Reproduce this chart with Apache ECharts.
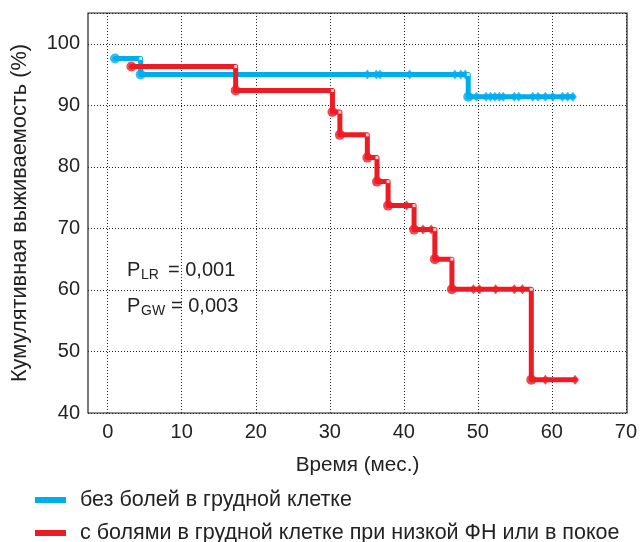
<!DOCTYPE html>
<html>
<head>
<meta charset="utf-8">
<script src="https://cdn.jsdelivr.net/npm/echarts@6/dist/echarts.min.js"></script>
<style>html,body{margin:0;padding:0;background:#fff;}#c{width:640px;height:542px;}</style>
</head>
<body>
<div id="c"></div>
<script>
// ---- Data ----
const xTicks = [0, 10, 20, 30, 40, 50, 60, 70];
const yTicks = [40, 50, 60, 70, 80, 90, 100];

const blueName = 'без болей в грудной клетке';
const blueEventT = [1.0, 4.45, 48.6];
const blueEventS = [97.6, 95.0, 91.4];
const blueEndT = 62.7;
const blueCensorT = [35.0, 36.2, 36.7, 40.7, 46.8, 47.6, 48.2,
                     49.7, 51.0, 51.6, 52.2, 52.8, 53.3, 54.8, 55.4, 57.3, 58.0, 59.0, 60.0, 61.3, 62.0, 62.7];
const blueCensorS = [95.0, 95.0, 95.0, 95.0, 95.0, 95.0, 95.0,
                     91.4, 91.4, 91.4, 91.4, 91.4, 91.4, 91.4, 91.4, 91.4, 91.4, 91.4, 91.4, 91.4, 91.4, 91.4];

const redName = 'с болями в грудной клетке при низкой ФН или в покое';
const redEventT = [3.2, 17.25, 30.3, 31.3, 35.0, 36.3, 37.8, 41.3, 44.1, 46.4, 57.1];
const redEventS = [96.3, 92.4, 88.9, 85.2, 81.5, 77.6, 73.7, 69.8, 65.0, 60.1, 45.4];
const redEndT = 63.0;
const redCensorT = [40.3, 42.5, 43.6, 49.3, 50.1, 52.3, 54.8, 55.9, 59.0, 63.0];
const redCensorS = [73.7, 69.8, 69.8, 60.1, 60.1, 60.1, 60.1, 60.1, 45.4, 45.4];

const pTexts = [['P', 'LR', '= 0,001'], ['P', 'GW', '= 0,003']];

// ---- Helpers ----
const BLUE = '#00AEEF', RED = '#ED1C24';
const FONT = 'Liberation Sans, Arial, sans-serif';
function pts(t, s) { return t.map((v, i) => [v, s[i]]); }
function stepLine(t, s, endT) { const d = pts(t, s); d.push([endT, s[s.length - 1]]); return d; }
function corners(t, s) { const d = []; for (let i = 1; i < t.length; i++) d.push([t[i], s[i - 1]]); return d; }

function groupSeries(name, color, t, s, endT, ct, cs) {
  return [
    { name: name, type: 'line', step: 'end', xAxisIndex: 0, yAxisIndex: 0,
      data: stepLine(t, s, endT), showSymbol: false, symbol: 'none', color: color,
      lineStyle: { color: color, width: 5, cap: 'round', join: 'round' }, z: 3, animation: false },
    { name: name, type: 'scatter', xAxisIndex: 0, yAxisIndex: 0, data: pts(ct, cs),
      symbol: 'diamond', symbolSize: [8, 10], itemStyle: { color: color }, z: 4, animation: false, silent: true },
    { name: name, type: 'scatter', xAxisIndex: 0, yAxisIndex: 0, data: pts(t, s),
      symbol: 'circle', symbolSize: 10, itemStyle: { color: color }, z: 4, animation: false, silent: true },
    { name: name, type: 'scatter', xAxisIndex: 0, yAxisIndex: 0, data: corners(t, s),
      symbol: 'rect', symbolSize: 3, itemStyle: { color: '#fff' }, z: 5, animation: false, silent: true }
  ];
}

const chart = echarts.init(document.getElementById('c'), null, { renderer: 'canvas' });

const gridTop = 13, gridBottom = 129, gridRight = 13;
const graphics = [];
const pY = [271, 307.5];
const subY = [276.5, 312.5];
const eqX = [168, 171];
pTexts.forEach((p, i) => {
  graphics.push({ type: 'text', left: 127, top: pY[i] - 11, style: { text: p[0], font: '20px ' + FONT, fill: '#222' } });
  graphics.push({ type: 'text', left: 141, top: subY[i] - 8, style: { text: p[1], font: '14px ' + FONT, fill: '#222' } });
  graphics.push({ type: 'text', left: eqX[i], top: pY[i] - 11, style: { text: p[2], font: '20px ' + FONT, fill: '#222' } });
});

function legendOf(name, top) {
  return { data: [name], orient: 'vertical', left: 35, top: top, padding: 0, icon: 'rect',
    itemWidth: 31, itemHeight: 6, itemGap: 0, selectedMode: false,
    textStyle: { fontSize: 21.5, color: '#222', lineHeight: 22, fontFamily: FONT, padding: [0, 0, 0, 9] } };
}

chart.setOption({
  animation: false,
  textStyle: { fontFamily: FONT },
  grid: [
    { left: 88, right: gridRight, top: gridTop, bottom: gridBottom, show: true,
      borderColor: '#222', borderWidth: 1.2, backgroundColor: 'transparent', containLabel: false },
    { left: 107.7, right: gridRight, top: gridTop, bottom: gridBottom, show: false, containLabel: false }
  ],
  xAxis: [
    { type: 'value', gridIndex: 0, min: -2.65, max: 70,
      axisLine: { show: false }, axisTick: { show: false }, axisLabel: { show: false }, splitLine: { show: false },
      name: 'Время (мес.)', nameLocation: 'middle', nameGap: 42,
      nameTextStyle: { fontSize: 20.7, color: '#222', fontFamily: FONT } },
    { type: 'value', gridIndex: 1, min: xTicks[0], max: xTicks[xTicks.length - 1], interval: 10,
      axisLine: { show: false }, axisTick: { show: false },
      axisLabel: { fontSize: 20, color: '#222', margin: 9, fontFamily: FONT },
      splitLine: { show: true, lineStyle: { color: '#222', type: [1, 2], width: 1 } } }
  ],
  yAxis: [
    { type: 'value', gridIndex: 0, min: yTicks[0], max: 105, interval: 10,
      axisLine: { show: false }, axisTick: { show: false },
      axisLabel: { fontSize: 20, color: '#222', margin: 8, fontFamily: FONT, showMaxLabel: false,
        formatter: v => (yTicks.indexOf(v) >= 0 ? String(v) : '') },
      splitLine: { show: true, lineStyle: { color: '#222', type: [1, 2], width: 1 } },
      name: 'Кумулятивная выживаемость (%)', nameLocation: 'middle', nameGap: 57,
      nameTextStyle: { fontSize: 21.8, color: '#222', fontFamily: FONT } },
    { type: 'value', gridIndex: 1, min: yTicks[0], max: 105, show: false, splitLine: { show: false } }
  ],
  legend: [ legendOf(blueName, 489), legendOf(redName, 522) ],
  graphic: graphics,
  series: [].concat(
    groupSeries(blueName, BLUE, blueEventT, blueEventS, blueEndT, blueCensorT, blueCensorS),
    groupSeries(redName, RED, redEventT, redEventS, redEndT, redCensorT, redCensorS)
  )
});
</script>
</body>
</html>
